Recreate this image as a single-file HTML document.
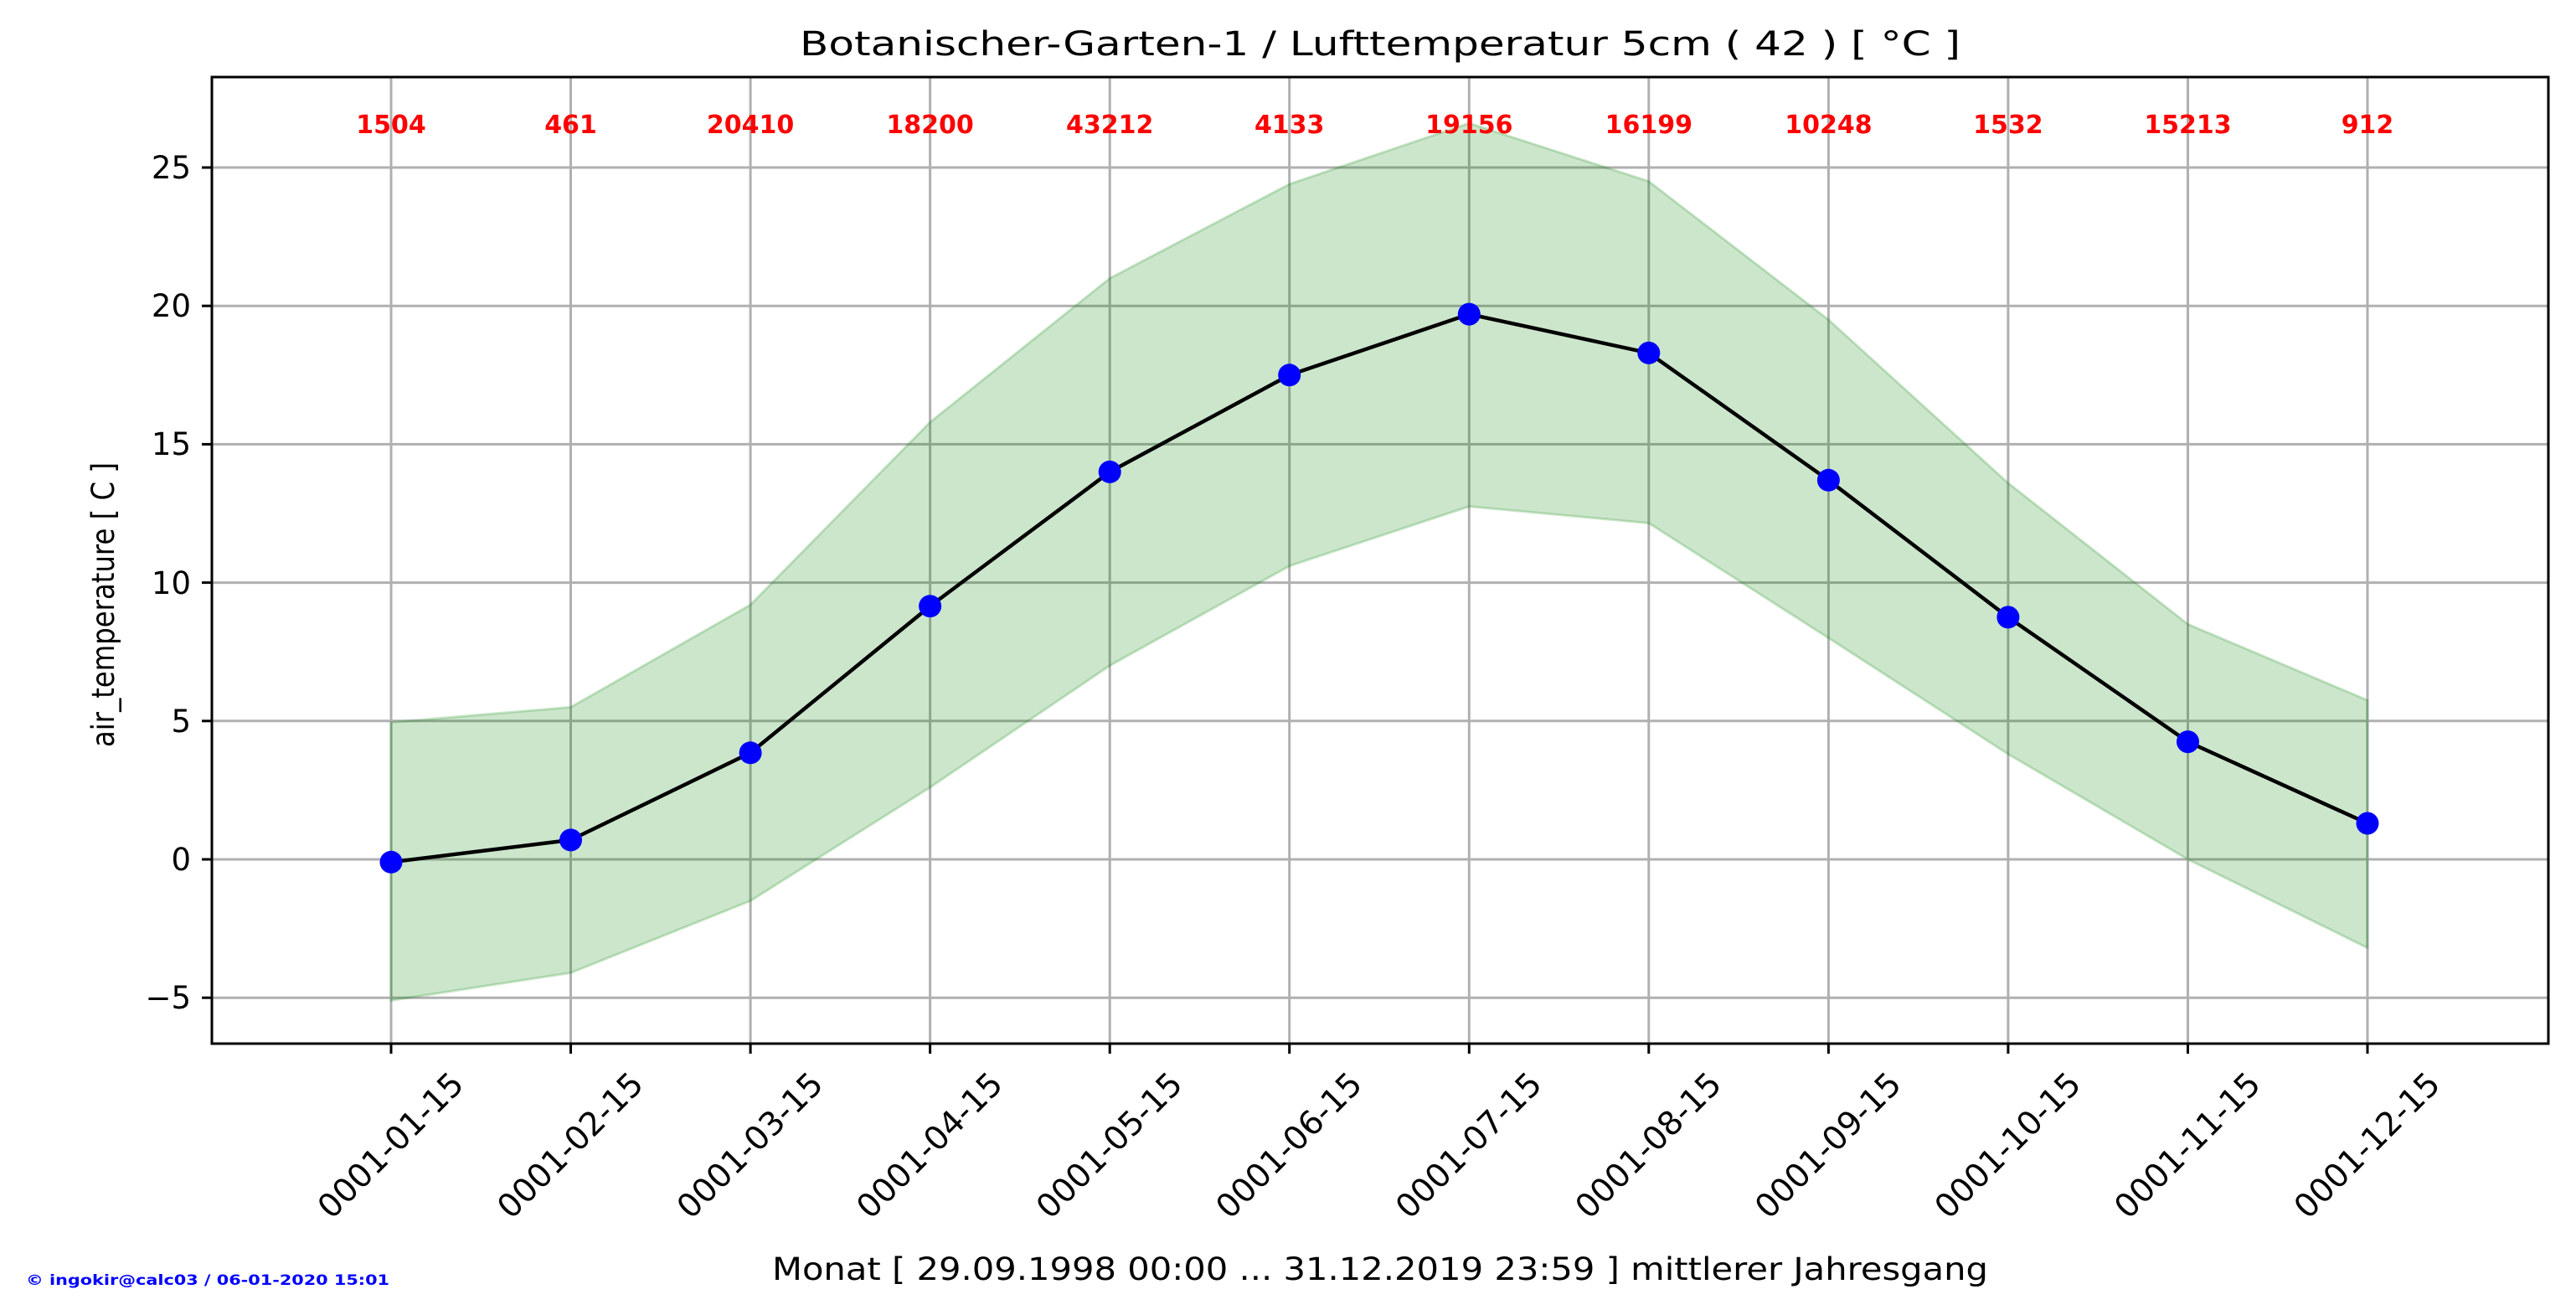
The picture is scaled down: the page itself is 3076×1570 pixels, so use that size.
<!DOCTYPE html>
<html><head><meta charset="utf-8"><style>html,body{margin:0;padding:0;background:#fff}svg{display:block}</style></head><body>
<svg width="3076" height="1570" xmlns="http://www.w3.org/2000/svg" font-family="DejaVu Sans, Liberation Sans, sans-serif">
<rect width="3076" height="1570" fill="#fff"/>
<text x="1648" y="66" font-size="40" text-anchor="middle" textLength="1386" lengthAdjust="spacingAndGlyphs">Botanischer-Garten-1 / Lufttemperatur 5cm ( 42 ) [ °C ]</text>
<g stroke="#b0b0b0" stroke-width="3">
<line x1="467" y1="92" x2="467" y2="1246"/><line x1="681.5" y1="92" x2="681.5" y2="1246"/><line x1="896.1" y1="92" x2="896.1" y2="1246"/><line x1="1110.6" y1="92" x2="1110.6" y2="1246"/><line x1="1325.2" y1="92" x2="1325.2" y2="1246"/><line x1="1539.7" y1="92" x2="1539.7" y2="1246"/><line x1="1754.3" y1="92" x2="1754.3" y2="1246"/><line x1="1968.8" y1="92" x2="1968.8" y2="1246"/><line x1="2183.4" y1="92" x2="2183.4" y2="1246"/><line x1="2397.9" y1="92" x2="2397.9" y2="1246"/><line x1="2612.5" y1="92" x2="2612.5" y2="1246"/><line x1="2827" y1="92" x2="2827" y2="1246"/>
<line x1="253" y1="200" x2="3043" y2="200"/><line x1="253" y1="365.2" x2="3043" y2="365.2"/><line x1="253" y1="530.4" x2="3043" y2="530.4"/><line x1="253" y1="695.6" x2="3043" y2="695.6"/><line x1="253" y1="860.8" x2="3043" y2="860.8"/><line x1="253" y1="1026" x2="3043" y2="1026"/><line x1="253" y1="1191.2" x2="3043" y2="1191.2"/>
</g>
<polygon fill="rgba(0,128,0,0.2)" stroke="rgba(0,128,0,0.2)" stroke-width="3" points="467,862.4 681.5,844.3 896.1,722 1110.6,504 1325.2,332.2 1539.7,219.8 1754.3,147.1 1968.8,216.5 2183.4,381.7 2397.9,576.7 2612.5,745.2 2827,836 2827,1131.7 2612.5,1026 2397.9,900.4 2183.4,761.7 1968.8,624.6 1754.3,604.7 1539.7,675.8 1325.2,794.7 1110.6,940.1 896.1,1075.6 681.5,1161.5 467,1194.5"/>
<polyline fill="none" stroke="#000" stroke-width="4.5" stroke-linejoin="round" points="467,1029.3 681.5,1002.9 896.1,898.8 1110.6,723.7 1325.2,563.4 1539.7,447.8 1754.3,375.1 1968.8,421.4 2183.4,573.3 2397.9,736.9 2612.5,885.6 2827,983"/>
<g fill="#0000ff">
<circle cx="467" cy="1029.3" r="13.5"/><circle cx="681.5" cy="1002.9" r="13.5"/><circle cx="896.1" cy="898.8" r="13.5"/><circle cx="1110.6" cy="723.7" r="13.5"/><circle cx="1325.2" cy="563.4" r="13.5"/><circle cx="1539.7" cy="447.8" r="13.5"/><circle cx="1754.3" cy="375.1" r="13.5"/><circle cx="1968.8" cy="421.4" r="13.5"/><circle cx="2183.4" cy="573.3" r="13.5"/><circle cx="2397.9" cy="736.9" r="13.5"/><circle cx="2612.5" cy="885.6" r="13.5"/><circle cx="2827" cy="983" r="13.5"/>
</g>
<g fill="#ff0000" font-size="30" font-weight="bold" text-anchor="middle">
<text x="467" y="159">1504</text><text x="681.5" y="159">461</text><text x="896.1" y="159">20410</text><text x="1110.6" y="159">18200</text><text x="1325.2" y="159">43212</text><text x="1539.7" y="159">4133</text><text x="1754.3" y="159">19156</text><text x="1968.8" y="159">16199</text><text x="2183.4" y="159">10248</text><text x="2397.9" y="159">1532</text><text x="2612.5" y="159">15213</text><text x="2827" y="159">912</text>
</g>
<rect x="253" y="92" width="2790" height="1154" fill="none" stroke="#000" stroke-width="3"/>
<g stroke="#000" stroke-width="3">
<line x1="241" y1="200" x2="253" y2="200"/><line x1="241" y1="365.2" x2="253" y2="365.2"/><line x1="241" y1="530.4" x2="253" y2="530.4"/><line x1="241" y1="695.6" x2="253" y2="695.6"/><line x1="241" y1="860.8" x2="253" y2="860.8"/><line x1="241" y1="1026" x2="253" y2="1026"/><line x1="241" y1="1191.2" x2="253" y2="1191.2"/>
<line x1="467" y1="1246" x2="467" y2="1258"/><line x1="681.5" y1="1246" x2="681.5" y2="1258"/><line x1="896.1" y1="1246" x2="896.1" y2="1258"/><line x1="1110.6" y1="1246" x2="1110.6" y2="1258"/><line x1="1325.2" y1="1246" x2="1325.2" y2="1258"/><line x1="1539.7" y1="1246" x2="1539.7" y2="1258"/><line x1="1754.3" y1="1246" x2="1754.3" y2="1258"/><line x1="1968.8" y1="1246" x2="1968.8" y2="1258"/><line x1="2183.4" y1="1246" x2="2183.4" y2="1258"/><line x1="2397.9" y1="1246" x2="2397.9" y2="1258"/><line x1="2612.5" y1="1246" x2="2612.5" y2="1258"/><line x1="2827" y1="1246" x2="2827" y2="1258"/>
</g>
<g font-size="37" text-anchor="end">
<text x="228" y="213">25</text><text x="228" y="378">20</text><text x="228" y="543">15</text><text x="228" y="709">10</text><text x="228" y="874">5</text><text x="228" y="1039">0</text><text x="228" y="1204">−5</text>
</g>
<g font-size="39" text-anchor="middle" dominant-baseline="central">
<text transform="translate(467,1368) rotate(-45)">0001-01-15</text>
<text transform="translate(681.5,1368) rotate(-45)">0001-02-15</text>
<text transform="translate(896.1,1368) rotate(-45)">0001-03-15</text>
<text transform="translate(1110.6,1368) rotate(-45)">0001-04-15</text>
<text transform="translate(1325.2,1368) rotate(-45)">0001-05-15</text>
<text transform="translate(1539.7,1368) rotate(-45)">0001-06-15</text>
<text transform="translate(1754.3,1368) rotate(-45)">0001-07-15</text>
<text transform="translate(1968.8,1368) rotate(-45)">0001-08-15</text>
<text transform="translate(2183.4,1368) rotate(-45)">0001-09-15</text>
<text transform="translate(2397.9,1368) rotate(-45)">0001-10-15</text>
<text transform="translate(2612.5,1368) rotate(-45)">0001-11-15</text>
<text transform="translate(2827,1368) rotate(-45)">0001-12-15</text>
</g>
<text x="1648" y="1528" font-size="37" text-anchor="middle" textLength="1452" lengthAdjust="spacingAndGlyphs">Monat [ 29.09.1998 00:00 ... 31.12.2019 23:59 ] mittlerer Jahresgang</text>
<text transform="translate(136,722) rotate(-90)" font-size="37" text-anchor="middle" textLength="340" lengthAdjust="spacingAndGlyphs">air_temperature [ C ]</text>
<text x="31" y="1534" font-size="17" font-weight="bold" fill="#0000ff" textLength="434" lengthAdjust="spacingAndGlyphs">© ingokir@calc03 / 06-01-2020 15:01</text>
</svg>
</body></html>
